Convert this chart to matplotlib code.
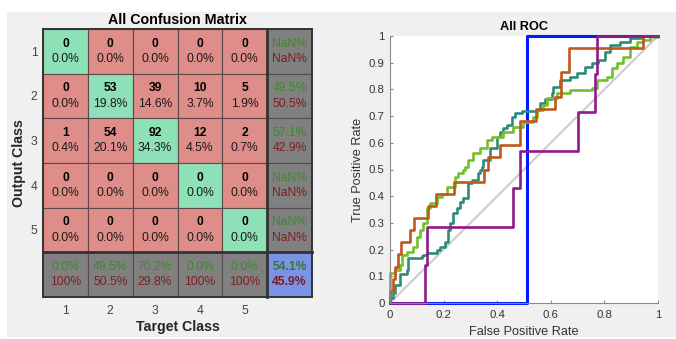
import numpy as np
import matplotlib.pyplot as plt
from matplotlib.patches import Rectangle

plt.rcParams['font.family'] = ['Liberation Sans', 'DejaVu Sans']

# ---- confusion matrix data (rows = output class, cols = target class)
classes = ['1', '2', '3', '4', '5']
counts = np.array([[0, 0, 0, 0, 0],
                   [0, 53, 39, 10, 5],
                   [1, 54, 92, 12, 2],
                   [0, 0, 0, 0, 0],
                   [0, 0, 0, 0, 0]])
row_good = ['NaN%', '49.5%', '57.1%', 'NaN%', 'NaN%']
row_bad = ['NaN%', '50.5%', '42.9%', 'NaN%', 'NaN%']
col_good = ['0.0%', '49.5%', '70.2%', '0.0%', '0.0%']
col_bad = ['100%', '50.5%', '29.8%', '100%', '100%']
all_good = '54.1%'
all_bad = '45.9%'

# ---- ROC curves, one per class (false positive rate, true positive rate)
fpr_1 = [0, 0.51, 0.51, 1.0]
tpr_1 = [0, 0, 1.0, 1.0]

fpr_2 = [0, 0, 0.012, 0.02, 0.037, 0.062, 0.068, 0.118, 0.124, 0.137, 0.174, 0.187,
         0.205, 0.218, 0.224, 0.236, 0.249, 0.261, 0.274, 0.292, 0.305, 0.33, 0.336,
         0.342, 0.348, 0.373, 0.398, 0.41, 0.423, 0.435, 0.454, 0.466, 0.491, 0.547,
         0.56, 0.578, 0.603, 0.61, 0.634, 0.672, 0.697, 0.728, 0.753, 0.777, 0.802,
         0.821, 0.858, 0.896, 0.933, 0.945, 1.0]
tpr_2 = [0, 0.02, 0.036, 0.067, 0.11, 0.124, 0.167, 0.175, 0.18, 0.186, 0.2, 0.21,
         0.23, 0.273, 0.298, 0.336, 0.355, 0.38, 0.392, 0.448, 0.46, 0.486, 0.498,
         0.51, 0.536, 0.579, 0.623, 0.642, 0.654, 0.667, 0.698, 0.71, 0.72, 0.723,
         0.748, 0.765, 0.785, 0.81, 0.835, 0.848, 0.86, 0.885, 0.898, 0.91, 0.941,
         0.966, 0.979, 0.991, 0.991, 1.0, 1.0]

fpr_3 = [0, 0, 0.02, 0.037, 0.044, 0.062, 0.087, 0.1, 0.112, 0.124, 0.137, 0.149,
         0.174, 0.193, 0.211, 0.243, 0.255, 0.274, 0.28, 0.292, 0.311, 0.336, 0.361,
         0.379, 0.423, 0.46, 0.498, 0.535, 0.547, 0.572, 0.585, 0.622, 0.672, 0.753,
         0.771, 0.808, 0.827, 0.846, 0.87, 0.896, 0.92, 0.945, 0.97, 1.0]
tpr_3 = [0, 0.111, 0.125, 0.142, 0.18, 0.192, 0.21, 0.248, 0.273, 0.298, 0.355, 0.373,
         0.398, 0.41, 0.436, 0.473, 0.486, 0.498, 0.51, 0.536, 0.561, 0.579, 0.61,
         0.623, 0.642, 0.66, 0.679, 0.698, 0.723, 0.742, 0.767, 0.785, 0.798, 0.804,
         0.835, 0.848, 0.879, 0.898, 0.922, 0.96, 0.979, 0.985, 0.995, 1.0]

fpr_4 = [0, 0, 0.01, 0.01, 0.02, 0.02, 0.03, 0.03, 0.04, 0.04, 0.075, 0.075, 0.09,
         0.09, 0.14, 0.14, 0.17, 0.17, 0.24, 0.24, 0.35, 0.35, 0.365, 0.365, 0.41,
         0.41, 0.485, 0.485, 0.545, 0.545, 0.615, 0.615, 0.637, 0.637, 0.669, 0.669,
         0.945, 0.945, 1.0]
tpr_4 = [0, 0.045, 0.045, 0.091, 0.091, 0.136, 0.136, 0.182, 0.182, 0.227, 0.227,
         0.273, 0.273, 0.318, 0.318, 0.364, 0.364, 0.409, 0.409, 0.455, 0.455, 0.5,
         0.5, 0.545, 0.545, 0.591, 0.591, 0.682, 0.682, 0.727, 0.727, 0.773, 0.773,
         0.864, 0.864, 0.955, 0.955, 1.0, 1.0]

fpr_5 = [0, 0.13, 0.13, 0.139, 0.139, 0.46, 0.46, 0.485, 0.485, 0.703, 0.703, 0.765,
         0.765, 0.772, 0.772, 1.0]
tpr_5 = [0, 0, 0.143, 0.143, 0.286, 0.286, 0.429, 0.429, 0.571, 0.571, 0.714, 0.714,
         0.857, 0.857, 1.0, 1.0]

W, H = 676, 339
fig = plt.figure(figsize=(W / 100, H / 100), dpi=100)
fig.patch.set_facecolor('white')
fig.patches.append(Rectangle((7 / W, 2 / H), 1 - 7 / W, 1 - 14 / H,
                             transform=fig.transFigure, facecolor='#f0f0f0',
                             edgecolor='none', zorder=-10))

# ================= confusion matrix =================
ax = fig.add_axes([43 / W, 1 - 297 / H, 269 / W, 268 / H])
ax.set_xlim(0.5, 6.5)
ax.set_ylim(6.5, 0.5)

green_cell = '#8ee0b7'
red_cell = '#df8d88'
grey_cell = '#808080'
blue_cell = '#7b93e6'
green_txt = '#3b8a2a'
red_txt = '#7e1f1f'
total = counts.sum()
fs = 8.7

for i in range(6):
    for j in range(6):
        if i == 5 and j == 5:
            fc = blue_cell
        elif i == 5 or j == 5:
            fc = grey_cell
        elif i == j:
            fc = green_cell
        else:
            fc = red_cell
        ax.add_patch(Rectangle((j + 0.5, i + 0.5), 1, 1, facecolor=fc,
                               edgecolor='#5a4a4a', lw=0.8))

for i in range(5):
    for j in range(5):
        ax.text(j + 1, i + 1 - 0.17, str(counts[i, j]), ha='center', va='center',
                fontsize=fs, fontweight='bold', color='black')
        ax.text(j + 1, i + 1 + 0.17, '%.1f%%' % (100.0 * counts[i, j] / total),
                ha='center', va='center', fontsize=fs, color='#1a1a1a')
    ax.text(6, i + 1 - 0.17, row_good[i], ha='center', va='center', fontsize=fs, color=green_txt)
    ax.text(6, i + 1 + 0.17, row_bad[i], ha='center', va='center', fontsize=fs, color=red_txt)
    ax.text(i + 1, 6 - 0.17, col_good[i], ha='center', va='center', fontsize=fs, color=green_txt)
    ax.text(i + 1, 6 + 0.17, col_bad[i], ha='center', va='center', fontsize=fs, color=red_txt)
ax.text(6, 6 - 0.17, all_good, ha='center', va='center', fontsize=fs,
        fontweight='bold', color='#2f7d1f')
ax.text(6, 6 + 0.17, all_bad, ha='center', va='center', fontsize=fs,
        fontweight='bold', color='#7e1a1a')

ax.plot([5.5, 5.5], [0.5, 6.5], color='#333333', lw=2.0, clip_on=False)
ax.plot([0.5, 6.5], [5.5, 5.5], color='#333333', lw=2.0, clip_on=False)
for s in ax.spines.values():
    s.set_edgecolor('#333333')
    s.set_linewidth(1.4)

ax.set_xticks(range(1, 6))
ax.set_xticklabels(classes)
ax.set_yticks(range(1, 6))
ax.set_yticklabels(classes)
ax.tick_params(length=0, labelsize=8.7, colors='#444444')
ax.tick_params(axis='x', pad=6)
ax.tick_params(axis='y', pad=4)

fig.text(177.5 / W, 1 - 20 / H, 'All Confusion Matrix', ha='center', va='center',
         fontsize=10.3, fontweight='bold')
fig.text(177.5 / W, 1 - 327 / H, 'Target Class', ha='center', va='center',
         fontsize=10.2, fontweight='bold', color='#262626')
fig.text(19 / W, 1 - 163 / H, 'Output Class', ha='center', va='center',
         rotation=90, fontsize=10.2, fontweight='bold', color='#262626')

# ================= ROC =================
bx = fig.add_axes([390 / W, 1 - 303 / H, 268 / W, 267 / H])
bx.set_facecolor('white')
bx.plot([0, 1], [0, 1], color='#cccccc', lw=1.5)
lw = 1.9
bx.plot(fpr_1, tpr_1, color='#0019ff', lw=2.2, clip_on=False)
bx.plot(fpr_2, tpr_2, color='#2e8b78', lw=lw, drawstyle='steps-post', clip_on=False)
bx.plot(fpr_3, tpr_3, color='#74bf2e', lw=lw, drawstyle='steps-post', clip_on=False)
bx.plot(fpr_4, tpr_4, color='#c2571c', lw=lw, clip_on=False)
bx.plot(fpr_5, tpr_5, color='#8e1b8a', lw=lw, clip_on=False)
bx.set_xlim(0, 1)
bx.set_ylim(0, 1)
bx.set_xticks(np.arange(0, 1.01, 0.2))
bx.set_xticklabels(['0', '0.2', '0.4', '0.6', '0.8', '1'])
bx.set_yticks(np.arange(0, 1.01, 0.1))
bx.set_yticklabels(['0', '0.1', '0.2', '0.3', '0.4', '0.5', '0.6', '0.7', '0.8', '0.9', '1'])
bx.spines['top'].set_visible(False)
bx.spines['right'].set_visible(False)
for s in ['left', 'bottom']:
    bx.spines[s].set_edgecolor('#8a8a8a')
    bx.spines[s].set_linewidth(0.8)
bx.tick_params(direction='in', length=2.5, width=0.8, color='#8a8a8a',
               labelsize=8.2, labelcolor='#333333')
bx.tick_params(axis='x', pad=5)
bx.tick_params(axis='y', pad=4)

fig.text(524 / W, 1 - 27 / H, 'All ROC', ha='center', va='center',
         fontsize=9.2, fontweight='bold')
fig.text(524 / W, 1 - 332 / H, 'False Positive Rate', ha='center', va='center',
         fontsize=9.2, color='#333333')
fig.text(358 / W, 1 - 170 / H, 'True Positive Rate', ha='center', va='center',
         rotation=90, fontsize=9.2, color='#333333')

fig.savefig('out.png', dpi=100, facecolor=fig.get_facecolor())
